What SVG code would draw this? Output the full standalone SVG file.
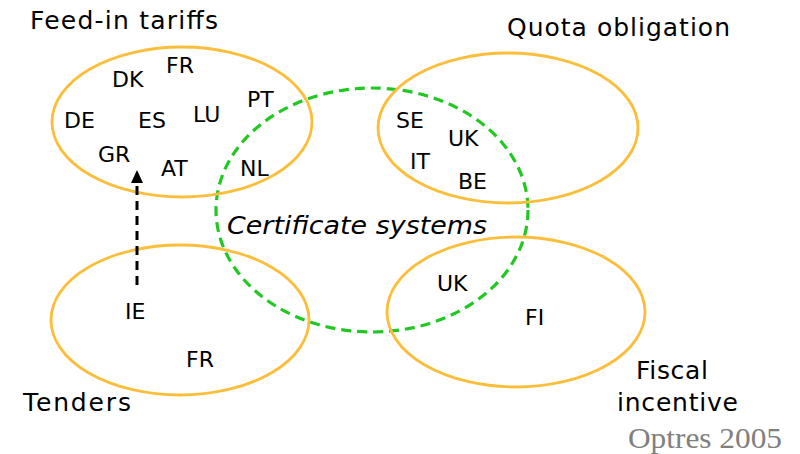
<svg xmlns="http://www.w3.org/2000/svg" width="800" height="454" viewBox="0 0 800 454">
<style>
.set{fill:none;stroke:#FBBE3A;stroke-width:2.8}
.cert{fill:none;stroke:#22C822;stroke-width:3.2;stroke-dasharray:10 6}
.code{font-family:"DejaVu Sans",Verdana,sans-serif;font-size:22px;fill:#000}
.title{font-family:"DejaVu Sans",Verdana,sans-serif;font-size:25px;fill:#000}
.ital{font-family:"DejaVu Sans",Verdana,sans-serif;font-size:25px;font-style:italic;fill:#000}
.src{font-family:"Liberation Serif","Times New Roman",serif;font-size:30px;fill:#808080}
.conn{stroke:#000;stroke-width:3;stroke-dasharray:9 6;fill:none}
</style>
<rect width="800" height="454" fill="#fff"/>
<g id="certificate-systems">
<ellipse class="cert" cx="372" cy="210" rx="156" ry="122"/>
<text class="ital" x="227" y="234" textLength="260" lengthAdjust="spacingAndGlyphs">Certificate systems</text>
</g>
<g id="feed-in-tariffs">
<ellipse class="set" cx="182" cy="122" rx="130" ry="75"/>
<text class="title" x="30" y="29" textLength="188" lengthAdjust="spacing">Feed-in tariffs</text>
<text class="code" x="166" y="73">FR</text>
<text class="code" x="112" y="87">DK</text>
<text class="code" x="247" y="107">PT</text>
<text class="code" x="64" y="128">DE</text>
<text class="code" x="138" y="128">ES</text>
<text class="code" x="193" y="122">LU</text>
<text class="code" x="98" y="162">GR</text>
<text class="code" x="161" y="176">AT</text>
<text class="code" x="240" y="176">NL</text>
</g>
<g id="quota-obligation">
<ellipse class="set" cx="508" cy="128" rx="130" ry="75"/>
<text class="title" x="507" y="36" textLength="223" lengthAdjust="spacing">Quota obligation</text>
<text class="code" x="396" y="128">SE</text>
<text class="code" x="448" y="146">UK</text>
<text class="code" x="410" y="169">IT</text>
<text class="code" x="458" y="189">BE</text>
</g>
<g id="tenders">
<ellipse class="set" cx="180" cy="320" rx="129" ry="75"/>
<text class="title" x="23" y="411" textLength="108" lengthAdjust="spacing">Tenders</text>
<text class="code" x="125" y="319">IE</text>
<text class="code" x="186" y="367">FR</text>
</g>
<g id="fiscal-incentive">
<ellipse class="set" cx="516" cy="312" rx="129" ry="75"/>
<text class="title" x="636" y="379" textLength="72" lengthAdjust="spacing">Fiscal</text>
<text class="title" x="617" y="411" textLength="121" lengthAdjust="spacing">incentive</text>
<text class="code" x="437" y="291">UK</text>
<text class="code" x="525" y="325">FI</text>
</g>
<g id="connectors">
<line class="conn" x1="137" y1="285" x2="137" y2="182"/>
<polygon points="137,170 131,183 143,183" fill="#000"/>
</g>
<text class="src" x="628" y="448" textLength="154" lengthAdjust="spacingAndGlyphs">Optres 2005</text>
</svg>
